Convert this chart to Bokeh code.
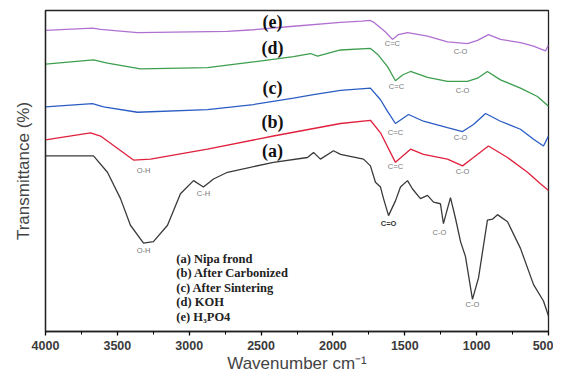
from bokeh.plotting import figure
from bokeh.models import Range1d, FixedTicker
from bokeh.core.properties import value
from bokeh.embed import file_html
from bokeh.resources import INLINE

# ---- data (wavenumber cm-1, transmittance arbitrary %) ----
wn_e = [4000, 3673, 3617, 3360, 2734, 2553, 2274, 1947, 1800, 1739, 1718, 1634, 1586, 1544, 1481, 1342, 1203, 1064, 994, 918, 834, 695, 604, 521, 500]
t_e = [93.8, 94.5, 94.1, 93.1, 93.5, 94.0, 95.1, 96.3, 96.7, 96.9, 96.4, 93.3, 91.0, 92.5, 93.1, 92.0, 90.2, 89.7, 90.7, 92.5, 91.0, 90.0, 88.9, 87.4, 89.2]

wn_d = [4000, 3666, 3569, 3339, 2873, 2553, 2274, 2156, 2107, 1947, 1739, 1690, 1620, 1565, 1516, 1460, 1342, 1203, 1064, 994, 925, 834, 695, 577, 500]
t_d = [83.3, 84.6, 83.6, 81.8, 82.2, 84.0, 85.6, 86.6, 85.8, 87.7, 88.2, 86.4, 82.5, 78.1, 79.9, 81.0, 79.2, 77.9, 77.9, 78.9, 81.0, 78.4, 75.8, 73.2, 70.2]

wn_c = [4000, 3673, 3596, 3360, 2873, 2553, 2274, 2135, 1947, 1739, 1669, 1620, 1565, 1474, 1370, 1203, 1098, 1022, 938, 834, 695, 604, 535, 500]
t_c = [70.0, 71.0, 70.0, 68.3, 69.1, 70.7, 72.7, 73.8, 75.1, 75.8, 72.2, 68.6, 64.8, 67.6, 65.5, 63.5, 62.3, 64.5, 67.9, 65.5, 63.0, 59.9, 57.8, 60.9]

wn_b = [4000, 3687, 3617, 3388, 3269, 2873, 2414, 1947, 1739, 1669, 1565, 1460, 1370, 1203, 1098, 1022, 918, 785, 646, 556, 500]
t_b = [59.7, 61.9, 60.9, 53.4, 53.7, 56.8, 60.9, 64.8, 65.8, 61.9, 52.7, 56.8, 55.2, 53.7, 51.6, 54.2, 57.8, 54.2, 49.6, 46.0, 43.9]

wn_a = [4000, 3666, 3569, 3478, 3409, 3318, 3249, 3151, 3061, 2970, 2901, 2831, 2734, 2414, 2177, 2135, 2087, 1996, 1947, 1787, 1739, 1704, 1669, 1648, 1613, 1565, 1530, 1481, 1446, 1391, 1342, 1300, 1252, 1231, 1203, 1182, 1147, 1112, 1078, 1029, 987, 925, 890, 855, 785, 695, 604, 535, 500]
t_a = [54.7, 54.7, 49.6, 41.4, 33.1, 27.5, 28.0, 33.1, 42.9, 47.0, 45.0, 47.5, 49.6, 52.7, 54.2, 55.8, 53.7, 56.3, 55.2, 53.7, 51.6, 46.5, 45.0, 41.4, 36.1, 40.7, 45.0, 47.0, 44.4, 41.4, 42.4, 40.3, 39.8, 33.6, 38.3, 41.7, 35.2, 28.0, 23.4, 10.0, 16.7, 34.7, 35.0, 36.4, 34.2, 25.9, 14.6, 9.5, 4.8]

series_labels = ["(e)", "(d)", "(c)", "(b)", "(a)"]
series_label_wn = [2421, 2421, 2421, 2421, 2421]
series_label_t = [96.4, 88.3, 75.9, 65.4, 56.2]

band_text = ["O-H", "O-H", "C-H", "C=C", "C-O", "C=C", "C-O", "C=C", "C-O", "C=C", "C-O", "C-O", "C-O"]
band_wn = [3318, 3318, 2901, 1586, 1112, 1558, 1098, 1565, 1112, 1565, 1098, 1259, 1029]
band_t = [50.3, 25.3, 42.9, 89.8, 87.3, 76.2, 75.0, 62.0, 60.5, 51.5, 50.0, 30.9, 8.3]

cO_text = ["C=O"]
cO_wn = [1613]
cO_t = [33.6]

legend_lines = ["(a) Nipa frond", "(b) After Carbonized", "(c) After Sintering", "(d) KOH", "(e) H\u2083PO4"]
legend_wn = [3090, 3090, 3090, 3090, 3090]
legend_t = [22.5, 18.2, 13.6, 9.3, 4.6]

x_ticks = [4000, 3500, 3000, 2500, 2000, 1500, 1000, 500]
x_minor = [3750, 3250, 2750, 2250, 1750, 1250, 750]

p = figure(width=553, height=375, output_backend="svg", toolbar_location=None,
           title=None,
           x_range=Range1d(4000, 500), y_range=Range1d(0, 100),
           min_border_left=45, min_border_right=5, min_border_top=10, min_border_bottom=41)

p.xgrid.visible = False
p.ygrid.visible = False
p.outline_line_color = "#222222"
p.outline_line_width = 1.3
p.background_fill_color = "white"
p.border_fill_color = "white"

xa = p.xaxis[0]
xa.ticker = FixedTicker(ticks=x_ticks, minor_ticks=x_minor)
xa.major_tick_out = 4
xa.major_tick_in = 0
xa.minor_tick_out = 3
xa.minor_tick_in = 0
xa.axis_line_color = "#222222"
xa.axis_line_width = 1.5
xa.major_tick_line_width = 1.3
xa.minor_tick_line_width = 1.0
xa.major_label_text_font = "Liberation Sans"
xa.major_label_text_font_style = "bold"
xa.major_label_text_font_size = "12.5px"
xa.major_label_text_color = "#3a3a3a"
xa.major_label_standoff = 5
xa.axis_label = "Wavenumber cm\u207b\u00b9"
xa.axis_label_text_font = "Liberation Sans"
xa.axis_label_text_font_style = "normal"
xa.axis_label_text_font_size = "17px"
xa.axis_label_text_color = "#444444"
xa.axis_label_standoff = 1

ya = p.yaxis[0]
ya.ticker = FixedTicker(ticks=[])
ya.axis_line_color = "#222222"
ya.axis_line_width = 1.3
ya.axis_label = "Transmittance (%)"
ya.axis_label_text_font = "Liberation Sans"
ya.axis_label_text_font_style = "normal"
ya.axis_label_text_font_size = "17px"
ya.axis_label_text_color = "#444444"
ya.axis_label_standoff = 13

p.line(wn_e, t_e, line_color="#b070d0", line_width=1.3)
p.line(wn_d, t_d, line_color="#3d9e4e", line_width=1.3)
p.line(wn_c, t_c, line_color="#2a5cc4", line_width=1.3)
p.line(wn_b, t_b, line_color="#e0203c", line_width=1.3)
p.line(wn_a, t_a, line_color="#3a3a3a", line_width=1.3)

p.text(x=series_label_wn, y=series_label_t, text=series_labels,
       text_font=value("Liberation Serif"), text_font_style="bold",
       text_font_size="18px", text_color="#111111",
       text_align="center", text_baseline="middle")

p.text(x=band_wn, y=band_t, text=band_text,
       text_font=value("Liberation Sans"), text_font_size="7.5px",
       text_color="#777777", text_align="center", text_baseline="middle")

p.text(x=cO_wn, y=cO_t, text=cO_text,
       text_font=value("Liberation Sans"), text_font_style="bold",
       text_font_size="7.5px", text_color="#333333",
       text_align="center", text_baseline="middle")

p.text(x=legend_wn, y=legend_t, text=legend_lines,
       text_font=value("Liberation Serif"), text_font_style="bold",
       text_font_size="12.5px", text_color="#222222",
       text_align="left", text_baseline="middle")

open("out.html", "w").write(file_html(p, INLINE))
